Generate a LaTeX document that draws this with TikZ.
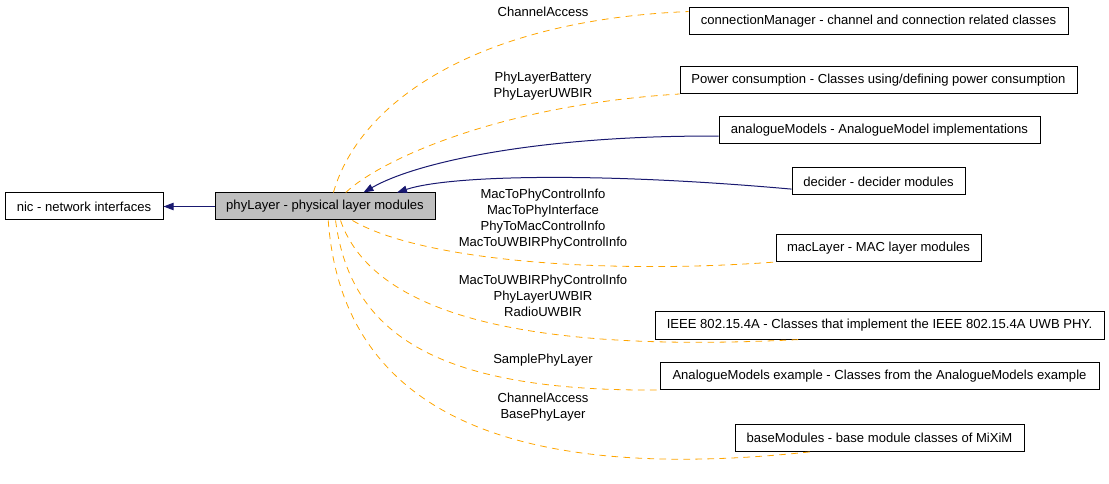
\documentclass[tikz,border=0pt]{standalone}
\usepackage{fontspec}
\setsansfont{Liberation Sans}
\usetikzlibrary{positioning, arrows.meta}
\definecolor{doxy-navy}{HTML}{191970}
\definecolor{doxy-orange}{HTML}{FFA500}
\definecolor{doxy-gray}{HTML}{BFBFBF}

\begin{document}
\begin{tikzpicture}[
    x=0.75pt, y=-0.75pt,
    group/.style={draw, line width=0.75pt, minimum height=20.25pt, inner sep=0pt, font=\sffamily\fontsize{9.8}{11}\selectfont},
    uses/.style={doxy-navy, line width=0.75pt, -{Triangle[length=7.5pt, width=5.5pt]}},
    member/.style={doxy-orange, line width=0.6pt, dash pattern=on 5pt off 4pt},
    tag/.style={font=\sffamily\fontsize{9.8}{12}\selectfont, align=center, inner sep=0pt},
]
    \useasboundingbox (0, 0) rectangle (1109, 484);

    % Groups
    \node[group, minimum width=118.5pt] (nic) at (84, 206.5) {nic - network interfaces};
    \node[group, minimum width=165pt, fill=doxy-gray] (phy) at (325, 206.5) {phyLayer - physical layer modules};

    \node[group, minimum width=284.25pt] (conn) at (878.5, 21.5) {connectionManager - channel and connection related classes};
    \node[group, minimum width=297.75pt] (power) at (878.5, 80) {Power consumption - Classes using/defining power consumption};
    \node[group, minimum width=240.75pt] (analog) at (879.5, 130.5) {analogueModels - AnalogueModel implementations};
    \node[group, minimum width=129.75pt] (decider) at (878.5, 181.5) {decider - decider modules};
    \node[group, minimum width=153.75pt] (mac) at (878.5, 248) {macLayer - MAC layer modules};
    \node[group, minimum width=336.75pt] (ieee) at (879.5, 325.5) {IEEE 802.15.4A - Classes that implement the IEEE 802.15.4A UWB PHY.};
    \node[group, minimum width=329.25pt] (example) at (879.5, 376) {AnalogueModels example - Classes from the AnalogueModels example};
    \node[group, minimum width=216.75pt] (base) at (879.5, 437.5) {baseModules - base module classes of MiXiM};

    % Subgroup arrows
    \draw[uses] (phy.west) -- (nic.east);
    \draw[uses] (analog.182) .. controls (550, 135) and (420, 160) .. (phy.20);
    \draw[uses] (decider.185) .. controls (600, 172) and (450, 175) .. (phy.11);

    % Shared members
    \draw[member] (phy.59) .. controls (360, 100) and (480, 20) .. (conn.177);
    \draw[member] (phy.34) .. controls (380, 160) and (500, 105) .. (power.south west);
    \draw[member] (phy.-27) .. controls (420, 260) and (600, 275) .. (mac.south west);
    \draw[member] (phy.-42) .. controls (370, 305) and (500, 355) .. (ieee.190);
    \draw[member] (phy.-53) .. controls (350, 330) and (430, 392) .. (example.south west);
    \draw[member] (phy.-77) .. controls (340, 380) and (460, 490) .. (base.192);

    % Labels
    \node[tag] (t-conn) at (543, 12) {ChannelAccess};
    \node[tag] (t-power) at (543, 86) {PhyLayerBattery\\PhyLayerUWBIR};
    \node[tag] (t-mac) at (543, 219.5) {MacToPhyControlInfo\\MacToPhyInterface\\PhyToMacControlInfo\\MacToUWBIRPhyControlInfo};
    \node[tag] (t-ieee) at (543, 295.5) {MacToUWBIRPhyControlInfo\\PhyLayerUWBIR\\RadioUWBIR};
    \node[tag] (t-example) at (543, 360) {SamplePhyLayer};
    \node[tag] (t-base) at (543, 407) {ChannelAccess\\BasePhyLayer};
\end{tikzpicture}
\end{document}
